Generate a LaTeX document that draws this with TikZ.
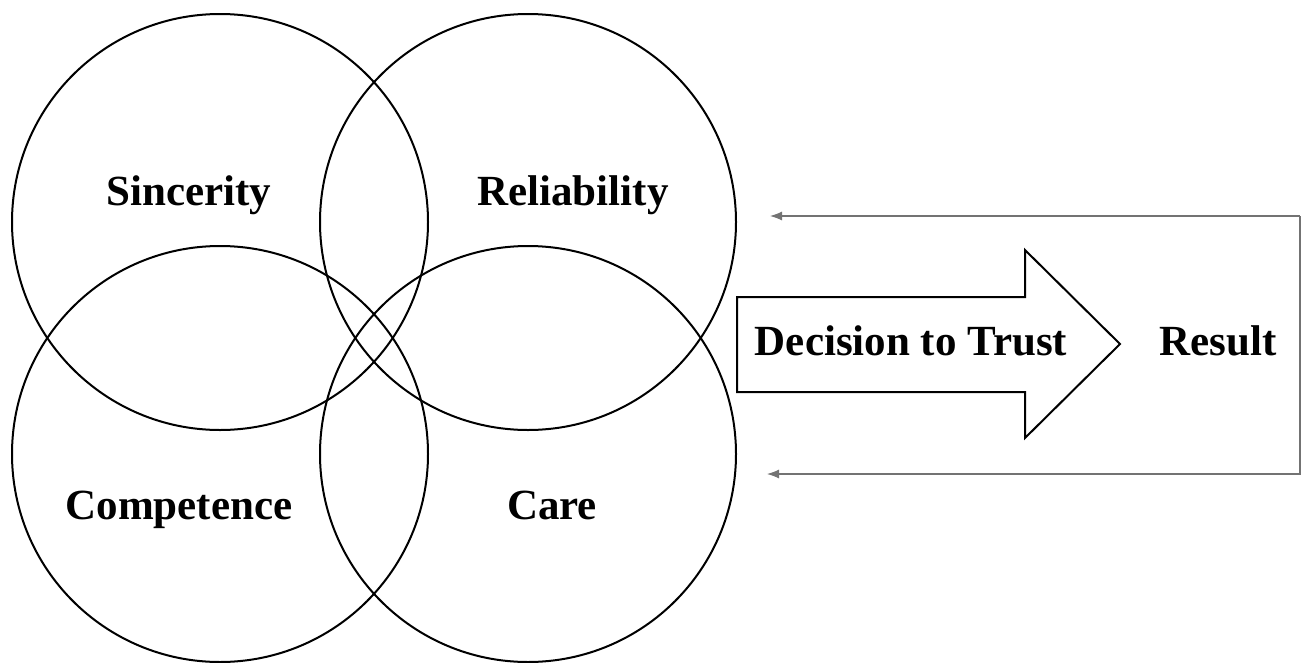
\documentclass[tikz,border=0pt]{standalone}
\usepackage{fontspec}
\setmainfont{Liberation Serif}
\usetikzlibrary{arrows.meta}
\begin{document}
\begin{tikzpicture}[x=1pt,y=-1pt,
  ring/.style={circle, draw=black, line width=2pt, minimum size=416pt, inner sep=0pt},
  label/.style={font=\fontsize{43}{43}\selectfont\bfseries, inner sep=0pt, anchor=base},
  feedback/.style={draw=black!55, line width=1.1pt},
  tip/.style={-{Latex[length=12pt,width=9pt]}}]
\useasboundingbox (0,0) rectangle (1302,662);

% four overlapping circles
\node[ring] (sincC) at (220,222) {};
\node[ring] (reliC) at (528,222) {};
\node[ring] (compC) at (220,454) {};
\node[ring] (careC) at (528,454) {};

\node[label] (sinc) at (189,205) {Sincerity};
\node[label] (reli) at (573,205) {Reliability};
\node[label] (comp) at (179,519) {Competence};
\node[label] (care) at (552,519) {Care};

% block arrow
\draw[line width=2pt, line join=miter]
  (737,297) -- (1025,297) -- (1025,250) -- (1120,344) -- (1025,438)
  -- (1025,392) -- (737,392) -- cycle;
\node[label] (decision) at (911,355) {Decision to Trust};
\node[label] (result) at (1218,355) {Result};

% feedback loop
\coordinate (fbTR) at (1300,216);
\coordinate (fbBR) at (1300,474);
\coordinate (fbTL) at (770,216);
\coordinate (fbBL) at (767,474);
\draw[feedback, tip] (fbTR) -- (fbTL);
\draw[feedback, tip] (fbTR) -- (fbBR) -- (fbBL);
\end{tikzpicture}
\end{document}
